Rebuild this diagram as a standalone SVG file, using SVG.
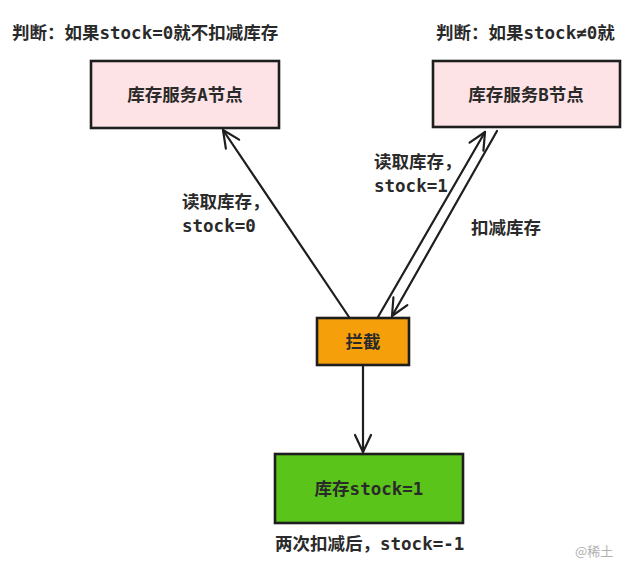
<svg xmlns="http://www.w3.org/2000/svg" width="624" height="562" viewBox="0 0 624 562">
<defs>
<style>
text{font-family:"DejaVu Sans Mono","Noto Sans CJK SC",monospace;font-size:17.5px;font-weight:600;fill:#2a2a2a;}
.box{stroke:#1e1e1e;stroke-width:2.6;}
.c{text-anchor:middle;}
.edge{stroke:#1e1e1e;stroke-width:2.2;fill:none;stroke-linecap:round;}
</style>
<marker id="ah" viewBox="0 0 22 22" refX="20" refY="11" markerWidth="22" markerHeight="22" markerUnits="userSpaceOnUse" orient="auto">
<path d="M3 3 L20 11 L3 19" fill="none" stroke="#1e1e1e" stroke-width="2.2" stroke-linecap="round" stroke-linejoin="round"/>
</marker>
</defs>
<rect width="624" height="562" fill="#ffffff"/>
<text x="12" y="39">判断：如果stock=0就不扣减库存</text>
<text x="436" y="39">判断：如果stock≠0就</text>
<g id="nodeA">
<rect class="box" x="91" y="61" width="188" height="67" fill="#fde3e5"/>
<text class="c" x="185" y="101">库存服务A节点</text>
</g>
<g id="nodeB">
<rect class="box" x="433" y="61" width="187" height="66" fill="#fde3e5"/>
<text class="c" x="526" y="101">库存服务B节点</text>
</g>
<g id="nodeIntercept">
<rect class="box" x="317" y="318" width="92" height="47" fill="#f59f0a"/>
<text class="c" x="363" y="348">拦截</text>
</g>
<g id="nodeStock">
<rect class="box" x="275" y="454" width="188" height="69" fill="#5bc41b"/>
<text class="c" x="369" y="495">库存stock=1</text>
</g>
<g id="connectors">
<line class="edge" x1="349" y1="317" x2="223" y2="130" marker-end="url(#ah)"/>
<line class="edge" x1="378" y1="317" x2="485" y2="132" marker-end="url(#ah)"/>
<line class="edge" x1="497" y1="131" x2="392" y2="316" marker-end="url(#ah)"/>
<line class="edge" x1="363" y1="366" x2="363" y2="452" marker-end="url(#ah)"/>
</g>
<g id="labels">
<text x="182" y="208">读取库存，</text>
<text x="182" y="232">stock=0</text>
<text x="374" y="168">读取库存，</text>
<text x="374" y="192">stock=1</text>
<text x="471" y="234">扣减库存</text>
<text x="275" y="550">两次扣减后，stock=-1</text>
</g>
<text x="575" y="556" style="font-family:'Noto Sans CJK SC',sans-serif;font-size:13px;font-weight:400;fill:#b0b0b0">@稀土</text>
</svg>
